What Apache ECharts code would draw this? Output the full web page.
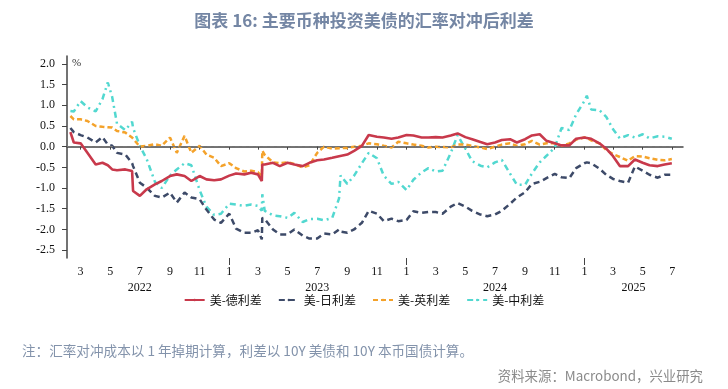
<!DOCTYPE html>
<html><head><meta charset="utf-8">
<script src="https://cdn.jsdelivr.net/npm/echarts@6/dist/echarts.min.js"></script>
<style>html,body{margin:0;padding:0;background:#fff}#c{width:728px;height:389px}</style>
</head><body><div id="c"></div>
<script>
const dates = ['2022-02-08','2022-02-15','2022-03-01','2022-03-15','2022-04-01','2022-04-15','2022-04-26','2022-05-05','2022-05-15','2022-06-01',
'2022-06-15','2022-06-17','2022-07-01','2022-07-15','2022-08-01','2022-08-15','2022-09-01','2022-09-15','2022-10-01','2022-10-15',
'2022-11-01','2022-11-15','2022-12-01','2022-12-15','2023-01-01','2023-01-15','2023-02-01','2023-02-15','2023-03-01','2023-03-09',
'2023-03-10','2023-03-15','2023-04-01','2023-04-15','2023-05-01','2023-05-15','2023-06-01','2023-06-15','2023-07-01','2023-07-15',
'2023-08-01','2023-08-15','2023-08-18','2023-09-01','2023-09-15','2023-10-01','2023-10-15','2023-11-01','2023-11-15','2023-12-01',
'2023-12-15','2024-01-01','2024-01-15','2024-02-01','2024-02-15','2024-03-01','2024-03-15','2024-04-01','2024-04-15','2024-05-01',
'2024-05-15','2024-06-01','2024-06-15','2024-07-01','2024-07-15','2024-08-01','2024-08-15','2024-09-01','2024-09-15','2024-10-01',
'2024-10-15','2024-11-01','2024-11-15','2024-12-01','2024-12-15','2025-01-01','2025-01-06','2025-01-15','2025-02-01','2025-02-15',
'2025-03-01','2025-03-15','2025-04-01','2025-04-15','2025-05-01','2025-05-15','2025-06-01','2025-06-15','2025-06-30'];

const usDe = [0.35,0.10,0.08,-0.15,-0.43,-0.39,-0.45,-0.55,-0.57,-0.55,
-0.59,-1.07,-1.19,-1.03,-0.91,-0.83,-0.71,-0.67,-0.71,-0.83,
-0.71,-0.79,-0.81,-0.79,-0.70,-0.65,-0.67,-0.63,-0.67,-0.83,
-0.43,-0.43,-0.39,-0.47,-0.39,-0.43,-0.47,-0.39,-0.33,-0.31,
-0.27,-0.23,-0.22,-0.19,-0.10,0.02,0.28,0.24,0.22,0.19,
0.22,0.28,0.27,0.22,0.22,0.23,0.22,0.27,0.32,0.23,
0.18,0.11,0.06,0.10,0.16,0.18,0.10,0.18,0.27,0.30,
0.14,0.08,0.03,0.03,0.19,0.22,0.21,0.19,0.08,-0.05,
-0.23,-0.47,-0.47,-0.31,-0.39,-0.45,-0.47,-0.43,-0.40];

const usJp = [0.45,0.35,0.28,0.22,0.10,0.23,0.05,0.02,-0.15,-0.19,
-0.40,-0.47,-0.87,-0.99,-1.19,-1.23,-1.11,-1.35,-1.11,-1.23,
-1.27,-1.52,-1.76,-1.84,-1.62,-1.98,-2.08,-2.08,-2.02,-2.24,
-1.72,-1.75,-2.00,-2.12,-2.12,-2.00,-2.15,-2.22,-2.22,-2.10,
-2.12,-2.00,-2.05,-2.08,-2.00,-1.84,-1.55,-1.62,-1.80,-1.74,
-1.80,-1.77,-1.56,-1.60,-1.58,-1.58,-1.62,-1.45,-1.36,-1.45,
-1.55,-1.64,-1.68,-1.64,-1.55,-1.38,-1.23,-1.10,-0.90,-0.85,
-0.76,-0.66,-0.74,-0.76,-0.52,-0.40,-0.38,-0.40,-0.53,-0.68,
-0.78,-0.83,-0.87,-0.48,-0.58,-0.68,-0.75,-0.68,-0.68];

const usUk = [0.74,0.66,0.66,0.62,0.50,0.48,0.47,0.46,0.38,0.34,
0.22,0.18,0.00,0.02,0.06,0.02,0.22,-0.15,0.26,-0.15,
0.02,-0.19,-0.27,-0.47,-0.40,-0.52,-0.60,-0.58,-0.62,-0.72,
-0.10,-0.20,-0.38,-0.40,-0.38,-0.42,-0.50,-0.45,-0.15,0.00,
-0.05,-0.04,-0.04,-0.03,0.00,0.02,0.08,0.06,0.02,-0.02,
0.12,0.08,0.05,0.02,-0.02,0.00,-0.01,-0.02,0.05,0.05,
0.02,-0.02,-0.06,0.00,0.05,0.08,0.02,0.06,0.14,0.05,
0.08,0.08,0.02,0.08,0.17,0.22,0.22,0.15,0.08,-0.08,
-0.18,-0.25,-0.34,-0.23,-0.24,-0.28,-0.32,-0.33,-0.30];

const usCn = [0.86,0.85,1.10,0.95,0.85,1.15,1.55,1.20,0.55,0.40,
0.60,0.45,0.02,-0.30,-0.85,-1.00,-0.70,-0.55,-0.40,-0.45,
-1.05,-1.45,-1.65,-1.62,-1.38,-1.40,-1.43,-1.40,-1.43,-1.55,
-1.15,-1.55,-1.66,-1.68,-1.72,-1.60,-1.82,-1.75,-1.74,-1.78,
-1.72,-1.25,-0.70,-0.90,-0.70,-0.40,-0.15,-0.28,-0.70,-0.90,
-0.85,-1.05,-0.80,-0.62,-0.52,-0.60,-0.58,-0.15,0.28,-0.05,
-0.35,-0.46,-0.50,-0.38,-0.32,-0.65,-0.92,-0.92,-0.65,-0.38,
-0.22,-0.02,0.45,0.40,0.78,1.10,1.23,0.90,0.88,0.72,
0.42,0.20,0.28,0.22,0.30,0.20,0.25,0.24,0.19];

const seriesNames = ['美-德利差','美-日利差','美-英利差','美-中利差'];
const yTicks = [2.0,1.5,1.0,0.5,0.0,-0.5,-1.0,-1.5,-2.0,-2.5];
const monthTicks = ['2022-03-01','2022-05-01','2022-07-01','2022-09-01','2022-11-01','2023-01-01','2023-03-01','2023-05-01','2023-07-01','2023-09-01','2023-11-01',
'2024-01-01','2024-03-01','2024-05-01','2024-07-01','2024-09-01','2024-11-01','2025-01-01','2025-03-01','2025-05-01','2025-07-01'];
const yearLabels = ['2022','2023','2024','2025'];
const yearLabelDates = ['2022-07-01','2023-07-01','2024-07-01','2025-04-12'];
const yearBoundaries = ['2023-01-01','2024-01-01','2025-01-01'];

const ts = s => { const p = s.split('-'); return Date.UTC(+p[0], +p[1]-1, +p[2]); };
const xMin = ts('2022-02-01'), xMax = ts('2025-07-23');
const pairs = arr => dates.map((d,i)=>[ts(d), arr[i]]);

const colors = ['#c8394b','#3d4a68','#f4a22a','#52d8d0'];
const serifFont = '"Liberation Serif", "Noto Sans CJK SC", serif';
const chart = echarts.init(document.getElementById('c'), null, {renderer:'canvas'});
const yearMap = {}; yearLabelDates.forEach((d,i)=>{yearMap[ts(d)] = yearLabels[i];});

chart.setOption({
  animation:false,
  backgroundColor:'#fff',
  title:{text:'图表 16: 主要币种投资美债的汇率对冲后利差', left:'center', top:7,
    textStyle:{fontFamily:'"Noto Sans CJK SC", sans-serif', fontSize:17, fontWeight:'bold', color:'#7486a4'}},
  grid:{left:67, right:45, top:56, bottom:131},
  legend:{bottom:78, left:'center', itemWidth:20, itemHeight:3, itemGap:16,
    textStyle:{fontFamily:'"Noto Sans CJK SC", serif', fontSize:12, color:'#111'},
    data:seriesNames},
  xAxis:[{type:'value', min:xMin, max:xMax, gridIndex:0, scale:true,
     axisLine:{lineStyle:{color:'#444', width:1.5}},
     axisTick:{show:true, length:3, customValues:monthTicks.map(ts), lineStyle:{color:'#444'}},
     axisLabel:{customValues:monthTicks.map(ts), margin:8, fontFamily:serifFont, fontSize:12, color:'#111',
       formatter:v=> String(new Date(v).getUTCMonth()+1), hideOverlap:false},
     splitLine:{show:false}},
    {type:'value', min:xMin, max:xMax, gridIndex:0, position:'bottom', scale:true,
     axisLine:{show:false},
     axisTick:{show:true, length:7, customValues:yearBoundaries.map(ts), lineStyle:{color:'#444'}},
     axisLabel:{customValues:yearLabelDates.map(ts), margin:24, fontFamily:serifFont, fontSize:12, color:'#111',
       formatter:v=> yearMap[v] || '', hideOverlap:false},
     splitLine:{show:false}}],
  yAxis:{type:'value', min:-2.69, max:2.19,
    axisLine:{show:true, lineStyle:{color:'#444', width:1.5}},
    axisTick:{show:true, length:5, customValues:yTicks, lineStyle:{color:'#444'}},
    axisLabel:{customValues:yTicks, margin:12, fontFamily:serifFont, fontSize:12, color:'#111',
      formatter:v=>v.toFixed(1)},
    splitLine:{show:false}},
  graphic:[
    {type:'text', left:72, top:58, style:{text:'%', font:'11px "Liberation Serif", serif', fill:'#333'}},
    {type:'text', left:22, top:344, style:{text:'注：汇率对冲成本以 1 年掉期计算，利差以 10Y 美债和 10Y 本币国债计算。', font:'13.6px "Noto Sans CJK SC", sans-serif', fill:'#8393ab'}},
    {type:'text', right:25, top:369, style:{text:'资料来源：Macrobond，兴业研究', font:'13.4px "Noto Sans CJK SC", sans-serif', fill:'#8a8a8a'}}
  ],
  series:[
    {name:seriesNames[0], type:'line', data:pairs(usDe), showSymbol:false, symbol:'none', z:5,
      lineStyle:{color:colors[0], width:2.6}, itemStyle:{color:colors[0]},
      markLine:{silent:true, symbol:'none', label:{show:false}, data:[{yAxis:0}],
        lineStyle:{color:'#777', type:[4,3], width:1}}},
    {name:seriesNames[1], type:'line', data:pairs(usJp), showSymbol:false, symbol:'none', z:4,
      lineStyle:{color:colors[1], width:2.5, type:[6,4]}, itemStyle:{color:colors[1]}},
    {name:seriesNames[2], type:'line', data:pairs(usUk), showSymbol:false, symbol:'none', z:3,
      lineStyle:{color:colors[2], width:2.5, type:[5,3]}, itemStyle:{color:colors[2]}},
    {name:seriesNames[3], type:'line', data:pairs(usCn), showSymbol:false, symbol:'none', z:2,
      lineStyle:{color:colors[3], width:2.5, type:[6,4,2,4]}, itemStyle:{color:colors[3]}}
  ]
});
</script></body></html>
